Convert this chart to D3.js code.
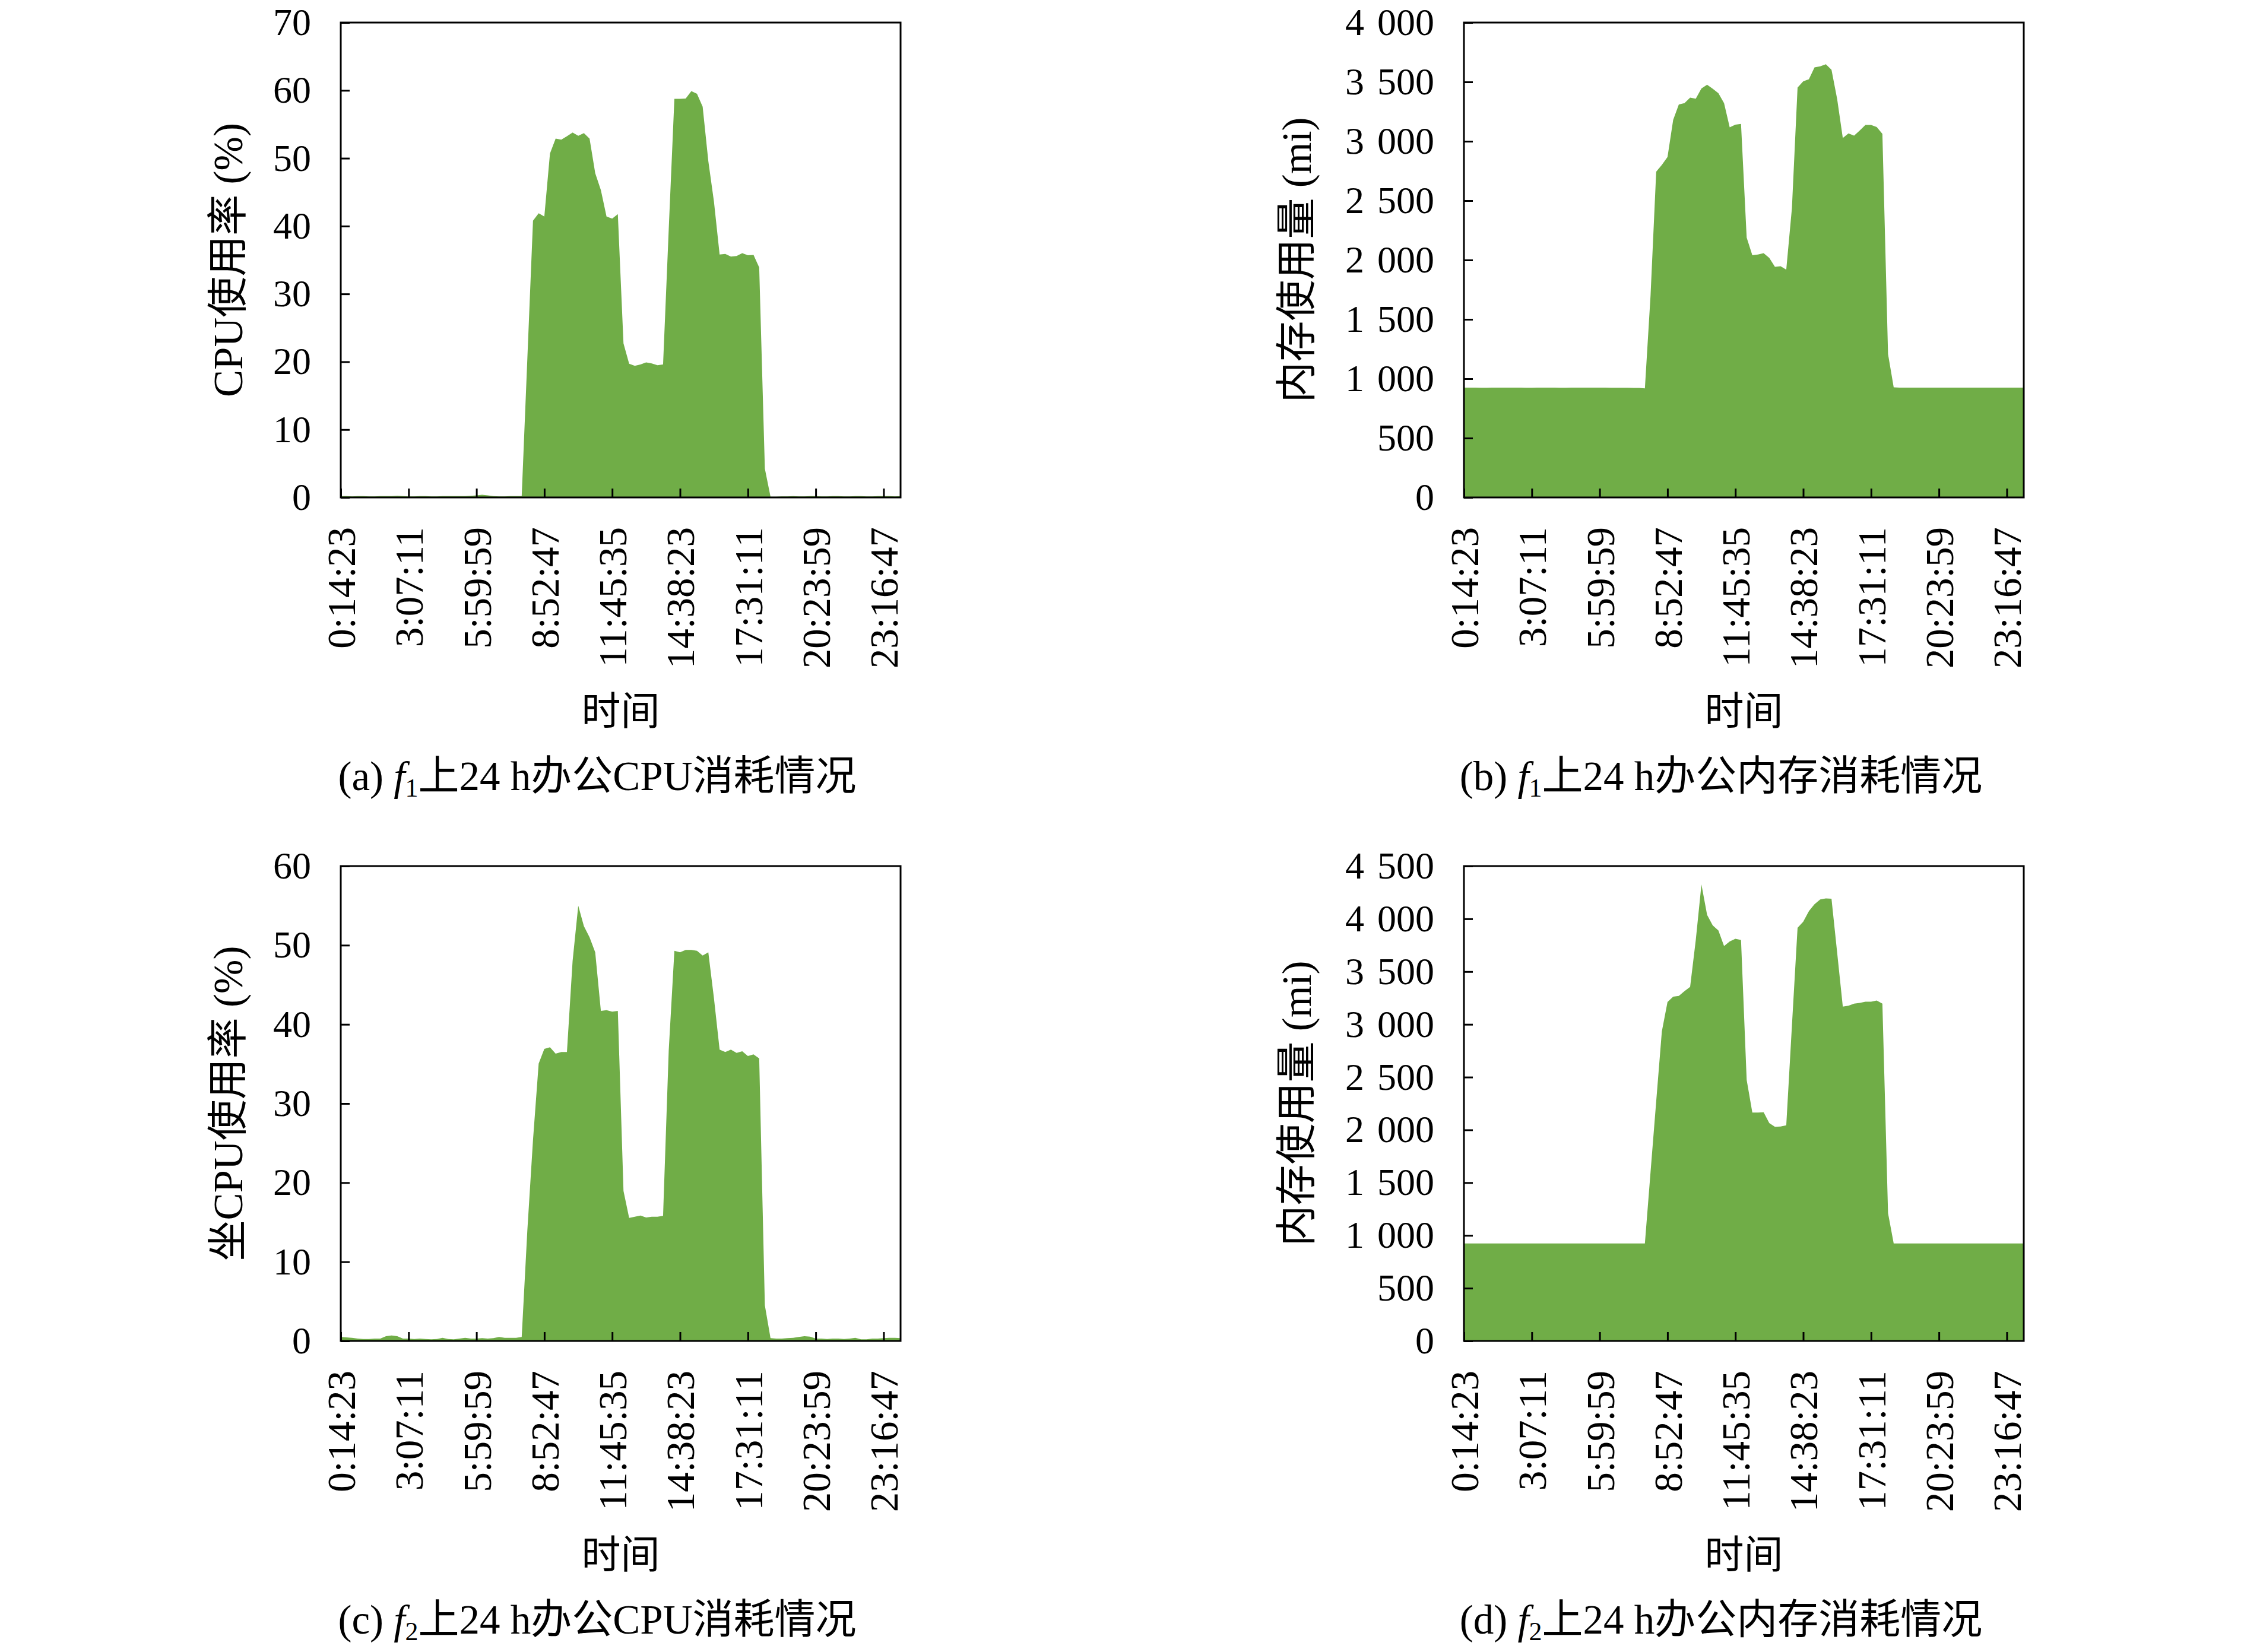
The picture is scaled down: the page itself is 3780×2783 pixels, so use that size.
<!DOCTYPE html>
<html lang="zh">
  <head>
    <meta charset="utf-8" />
    <title>24 h办公CPU与内存消耗情况</title>
    <script src="https://cdn.jsdelivr.net/npm/d3@7"></script>
    <style>
      body {
        margin: 0;
        background: #fff;
      }
      svg text {
        font-family: "Liberation Serif", "Noto Sans CJK SC", serif;
        fill: #000;
      }
    </style>
  </head>
  <body>
    <div id="figure"></div>
    <script>
      // tick labels on the time axis (one every 12 samples)
      const timeTicks = [
        "0:14:23", "3:07:11", "5:59:59", "8:52:47", "11:45:35",
        "14:38:23", "17:31:11", "20:23:59", "23:16:47",
      ];
      const tickIndex = [0, 12, 24, 36, 48, 60, 72, 84, 96];

      // (a) f1 CPU %
      const cpuF1 = [
        0.2, 0.2, 0.15, 0.2, 0.2, 0.15, 0.15, 0.2, 0.2, 0.2,
        0.25, 0.2, 0.15, 0.15, 0.2, 0.2, 0.15, 0.15, 0.2, 0.2,
        0.2, 0.2, 0.2, 0.25, 0.3, 0.4, 0.3, 0.2, 0.15, 0.15,
        0.2, 0.2, 0.2, 20.5, 40.8, 41.9, 41.4, 50.7, 52.9, 52.75,
        53.25, 53.8, 53.3, 53.7, 52.9, 47.8, 45.3, 41.4, 41.1, 41.75,
        22.7, 19.7, 19.4, 19.6, 19.9, 19.75, 19.5, 19.6, 39.5, 58.75,
        58.75, 58.8, 59.9, 59.5, 57.6, 49.6, 43.6, 35.8, 35.9, 35.5,
        35.6, 36.0, 35.7, 35.75, 33.9, 4.25, 0.1, 0.1, 0.15, 0.15,
        0.2, 0.15, 0.15, 0.2, 0.2, 0.15, 0.15, 0.2, 0.2, 0.15,
        0.15, 0.2, 0.2, 0.15, 0.15, 0.2, 0.2, 0.2, 0.15, 0.2,
      ];

      // (b) f1 memory
      const memF1 = [
        925, 925, 925, 924, 924, 925, 925, 925, 925, 925,
        925, 924, 924, 925, 925, 925, 925, 924, 924, 925,
        925, 925, 925, 925, 925, 925, 924, 924, 924, 924,
        923, 922, 919, 1700, 2744, 2801, 2867, 3180, 3310, 3321,
        3367, 3359, 3445, 3476, 3442, 3405, 3321, 3117, 3140, 3146,
        2189, 2040, 2046, 2057, 2017, 1942, 1948, 1919, 2436, 3453,
        3505, 3522, 3623, 3631, 3649, 3603, 3356, 3028, 3066, 3048,
        3091, 3137, 3137, 3120, 3063, 1207, 928, 925, 925, 925,
        925, 925, 925, 925, 925, 925, 925, 925, 925, 925,
        925, 925, 925, 925, 925, 925, 925, 925, 925, 925,
      ];

      // (c) f2 CPU %
      const cpuF2 = [
        0.5, 0.45, 0.4, 0.3, 0.25, 0.25, 0.3, 0.3, 0.6, 0.7,
        0.6, 0.3, 0.3, 0.25, 0.3, 0.25, 0.2, 0.25, 0.4, 0.25,
        0.2, 0.3, 0.4, 0.3, 0.3, 0.35, 0.3, 0.35, 0.5, 0.4,
        0.4, 0.4, 0.5, 14.0, 25.4, 35.05, 36.9, 37.1, 36.3, 36.5,
        36.5, 48.0, 55.0, 52.4, 51.0, 49.1, 41.7, 41.8, 41.6, 41.7,
        18.95, 15.55, 15.7, 15.85, 15.6, 15.7, 15.7, 15.8, 36.7, 49.3,
        49.1, 49.4, 49.4, 49.3, 48.7, 49.1, 43.3, 36.8, 36.5, 36.8,
        36.4, 36.6, 36.0, 36.2, 35.7, 4.5, 0.35, 0.3, 0.3, 0.35,
        0.4, 0.5, 0.6, 0.55, 0.3, 0.3, 0.25, 0.3, 0.3, 0.25,
        0.3, 0.4, 0.2, 0.2, 0.3, 0.3, 0.35, 0.4, 0.4, 0.35,
      ];

      // (d) f2 memory
      const memF2 = [
        924, 924, 924, 924, 924, 924, 924, 924, 924, 924,
        924, 924, 924, 924, 924, 924, 924, 924, 924, 924,
        924, 924, 924, 924, 924, 924, 924, 924, 924, 924,
        924, 924, 924, 1600, 2270, 2933, 3212, 3263, 3269, 3315,
        3355, 3800, 4325, 4038, 3938, 3889, 3742, 3785, 3811, 3800,
        2474, 2164, 2164, 2167, 2064, 2029, 2032, 2043, 2985, 3915,
        3972, 4073, 4139, 4184, 4193, 4190, 3680, 3168, 3177, 3197,
        3203, 3214, 3214, 3226, 3197, 1211, 924, 924, 924, 924,
        924, 924, 924, 924, 924, 924, 924, 924, 924, 924,
        924, 924, 924, 924, 924, 924, 924, 924, 924, 924,
      ];

      const cpuTicksA = [0, 10, 20, 30, 40, 50, 60, 70];
      const memTicksB = [0, 500, 1000, 1500, 2000, 2500, 3000, 3500, 4000];
      const cpuTicksC = [0, 10, 20, 30, 40, 50, 60];
      const memTicksD = [0, 500, 1000, 1500, 2000, 2500, 3000, 3500, 4000, 4500];

      const svg = d3
        .select("#figure")
        .append("svg")
        .attr("width", 3780)
        .attr("height", 2783);

      svg.append("rect").attr("width", 3780).attr("height", 2783).attr("fill", "#fff");

      const fmt = (d) =>
        d >= 1000 ? `${Math.floor(d / 1000)} ${String(d % 1000).padStart(3, "0")}` : `${d}`;

      const panel = (opts) => {
        const width = 943;
        const height = 800;
        const { left, top, values, yTicks } = opts;

        const x = d3.scaleLinear().domain([0, values.length - 1]).range([0, width]);
        const y = d3
          .scaleLinear()
          .domain([0, yTicks[yTicks.length - 1]])
          .range([height, 0]);

        const g = svg.append("g").attr("transform", `translate(${left},${top})`);

        const area = d3
          .area()
          .x((d, i) => x(i))
          .y0(y(0))
          .y1((d) => y(d));

        g.append("path").datum(values).attr("fill", "#70ad47").attr("d", area);

        const yAxis = g
          .append("g")
          .call(d3.axisLeft(y).tickValues(yTicks).tickSize(-15).tickPadding(50).tickFormat(fmt))
          .attr("font-size", 64)
          .attr("font-family", null);
        yAxis.select(".domain").remove();
        yAxis.selectAll("line").attr("stroke-width", 3);
        yAxis.selectAll("text").style("word-spacing", "6px");

        const xAxis = g
          .append("g")
          .attr("transform", `translate(0,${height})`)
          .call(
            d3
              .axisBottom(x)
              .tickValues(tickIndex)
              .tickSize(-15)
              .tickFormat((d, i) => timeTicks[i])
          )
          .attr("font-size", 67)
          .attr("font-family", null);
        xAxis.select(".domain").remove();
        xAxis.selectAll("line").attr("stroke-width", 3);
        xAxis
          .selectAll("text")
          .attr("transform", "rotate(-90)")
          .attr("text-anchor", "end")
          .attr("x", -50)
          .attr("y", 0)
          .attr("dy", "0.35em");

        g.append("rect")
          .attr("width", width)
          .attr("height", height)
          .attr("fill", "none")
          .attr("stroke", "#000")
          .attr("stroke-width", 3);

        // axis titles
        svg
          .append("text")
          .attr("transform", `translate(${opts.titleX},${top + height / 2}) rotate(-90)`)
          .attr("text-anchor", "middle")
          .attr("dominant-baseline", "central")
          .attr("font-size", 69)
          .text(opts.yTitle);

        svg
          .append("text")
          .attr("x", left + width / 2)
          .attr("y", top + 1160)
          .attr("text-anchor", "middle")
          .attr("dominant-baseline", "central")
          .attr("font-size", 66)
          .text("时间");

        // sub-figure caption
        const cap = svg
          .append("text")
          .attr("x", opts.captionX)
          .attr("y", top + 1293)
          .attr("text-anchor", "middle")
          .attr("font-size", 69);
        cap.append("tspan").text(`(${opts.tag}) `);
        cap.append("tspan").attr("font-style", "italic").text("f");
        cap.append("tspan").attr("font-size", 44).attr("dy", 11).text(opts.sub);
        cap.append("tspan").attr("dy", -11).text(opts.rest);
      };

      panel({
        left: 574, top: 38, values: cpuF1, yTicks: cpuTicksA,
        yTitle: "CPU使用率 (%)", titleX: 385,
        captionX: 1006, tag: "a", sub: "1", rest: "上24 h办公CPU消耗情况",
      });
      panel({
        left: 2466, top: 38, values: memF1, yTicks: memTicksB,
        yTitle: "内存使用量 (mi)", titleX: 2185,
        captionX: 2899, tag: "b", sub: "1", rest: "上24 h办公内存消耗情况",
      });
      panel({
        left: 574, top: 1459, values: cpuF2, yTicks: cpuTicksC,
        yTitle: "坐CPU使用率 (%)", titleX: 385,
        captionX: 1006, tag: "c", sub: "2", rest: "上24 h办公CPU消耗情况",
      });
      panel({
        left: 2466, top: 1459, values: memF2, yTicks: memTicksD,
        yTitle: "内存使用量 (mi)", titleX: 2185,
        captionX: 2899, tag: "d", sub: "2", rest: "上24 h办公内存消耗情况",
      });
    </script>
  </body>
</html>
